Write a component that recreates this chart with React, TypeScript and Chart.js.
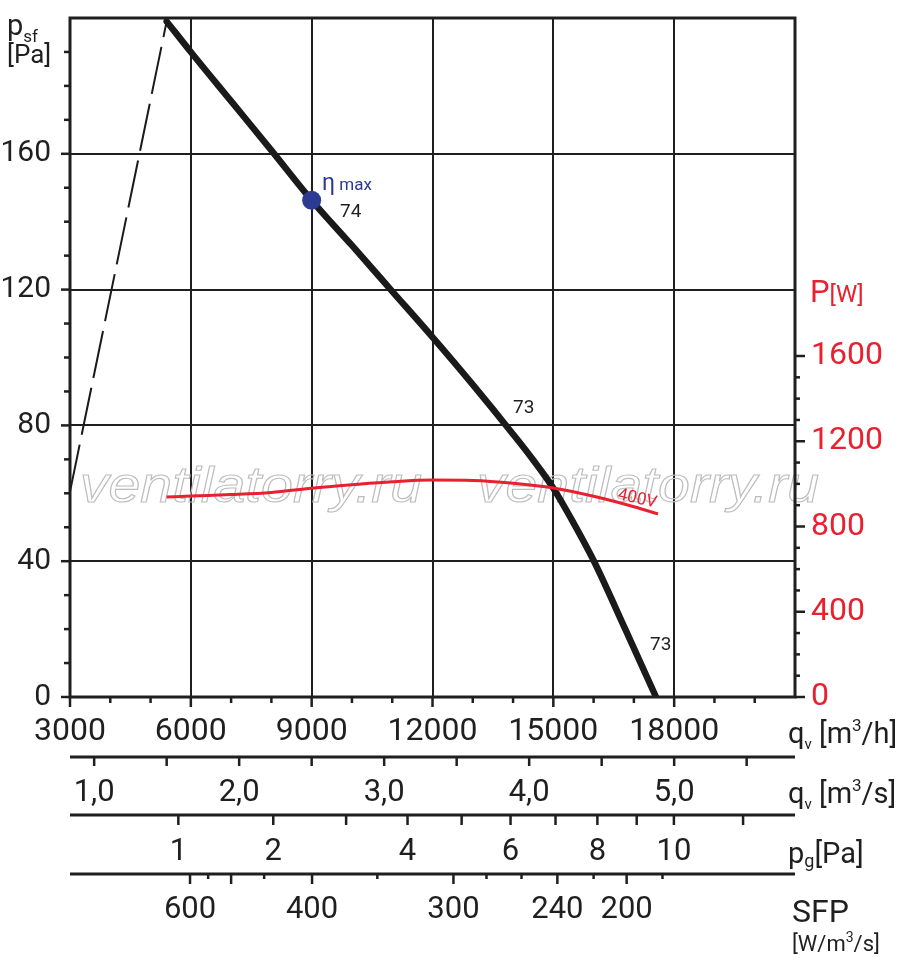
import { useEffect, useRef } from "react"
import { Chart, registerables, type ChartConfiguration, type Plugin, type Scale } from "chart.js"

Chart.register(...registerables)

const FONT = "Roboto"
const INK = "#1f1f1f"
const RED = "#e8202f"
const BLUE = "#2c3a94"

// fan curve, static pressure psf [Pa] against air flow [m3/h]
const flow = [5400, 6000, 7000, 8000, 9000, 10000, 11000, 12000, 13000, 14000, 14500, 15000, 15500, 16000, 16800, 17550]
const pressure = [199, 190, 175.5, 161, 146.3, 133, 119.5, 106, 92, 77.4, 69.8, 61.5, 51.3, 40.2, 19.6, 0]
// unstable region, dashed
const stallFlow = [3000, 5400]
const stallPressure = [60.5, 199]
// input power P [W] at 400V
const powerFlow = [5400, 6000, 7000, 8000, 9000, 10000, 11000, 12000, 13000, 14000, 15000, 16000, 17000, 17600]
const power = [938, 943, 950, 960, 980, 996, 1010, 1018, 1016, 1003, 981, 942, 893, 859]

const etaMaxFlow = 9000
const etaMaxPressure = 146.3

const flowLabels = [3000, 6000, 9000, 12000, 15000, 18000]
const pressureLabels = [0, 40, 80, 120, 160]
const powerLabels = [0, 400, 800, 1200, 1600]

// secondary rulers under the chart
const m3sTicks = [1, 1.5, 2, 2.5, 3, 3.5, 4, 4.5, 5, 5.5]
const m3sLabels = [1, 2, 3, 4, 5]
const pgTicks = [1, 2, 3, 4, 5, 6, 7, 8, 9, 10, 12]
const pgLabels = [1, 2, 4, 6, 8, 10]
const pgFlowAt1Pa = 5690
const sfpTicks = [600, 550, 500, 450, 400, 350, 300, 280, 260, 240, 220, 200, 180]
const sfpFlow = [5980, 6430, 7000, 7820, 9010, 10630, 12520, 13340, 14210, 15100, 16000, 16820, 17710]
const sfpLabels = [600, 400, 300, 240, 200]
const sfpLong = [600, 500, 400, 300, 240, 200]

const WATERMARK = "ventilatorry.ru"

type Part = [string, number, number]

function rich(ctx: CanvasRenderingContext2D, x: number, y: number, parts: Part[], color: string) {
  let cx = x
  ctx.fillStyle = color
  ctx.textAlign = "left"
  ctx.textBaseline = "alphabetic"
  for (const [s, size, dy] of parts) {
    ctx.font = `${size}px ${FONT}`
    ctx.fillText(s, cx, y + dy)
    cx += ctx.measureText(s).width
  }
}

function seg(ctx: CanvasRenderingContext2D, x1: number, y1: number, x2: number, y2: number) {
  ctx.beginPath()
  ctx.moveTo(x1, y1)
  ctx.lineTo(x2, y2)
  ctx.stroke()
}

// fixed axis sizes so the plot area lands where the reference has it
function fixSize(size: { width?: number; height?: number }) {
  return (s: Scale) => {
    if (size.width !== undefined) s.width = size.width
    if (size.height !== undefined) s.height = size.height
    s.paddingTop = 0
    s.paddingBottom = 0
    s.paddingLeft = 0
    s.paddingRight = 0
  }
}

const decor: Plugin<"line"> = {
  id: "decor",
  beforeDatasetsDraw(chart) {
    const { ctx } = chart
    ctx.save()
    ctx.strokeStyle = "#bdbdbd"
    ctx.lineWidth = 1.1
    ctx.font = `italic 50px "Liberation Sans"`
    ctx.textBaseline = "alphabetic"
    const w = ctx.measureText(WATERMARK).width
    for (const x0 of [80, 477]) {
      ctx.save()
      ctx.translate(x0, 502)
      ctx.scale(342 / w, 1)
      ctx.strokeText(WATERMARK, 0, 0)
      ctx.restore()
    }
    ctx.restore()
  },
  afterDraw(chart) {
    const { ctx, chartArea: a } = chart
    const xs = chart.scales.x
    const ys = chart.scales.y
    const ps = chart.scales.y1
    ctx.save()
    ctx.strokeStyle = INK
    ctx.lineCap = "butt"

    // frame
    ctx.lineWidth = 3
    ctx.strokeRect(a.left, a.top, a.right - a.left, a.bottom - a.top)

    // tick marks
    ctx.lineWidth = 2.5
    for (let v = 3000; v <= 20000; v += 1000) {
      const px = xs.getPixelForValue(v)
      seg(ctx, px, a.bottom, px, a.bottom + (v % 3000 === 0 ? 10 : 6))
    }
    for (let v = 0; v < 200; v += 10) {
      const py = ys.getPixelForValue(v)
      seg(ctx, a.left, py, a.left - (v % 40 === 0 ? 9 : 6), py)
    }
    for (let v = 0; v <= 1600; v += 100) {
      const py = ps.getPixelForValue(v)
      seg(ctx, a.right, py, a.right + (v % 400 === 0 ? 10 : 5), py)
    }

    // rulers
    const rulers = [757, 815, 874]
    ctx.lineWidth = 3
    for (const ry of rulers) seg(ctx, a.left, ry, a.right, ry)
    ctx.lineWidth = 2.5
    for (const v of m3sTicks) {
      const px = xs.getPixelForValue(v * 3600)
      seg(ctx, px, rulers[0], px, rulers[0] + 9)
    }
    for (const p of pgTicks) {
      const px = xs.getPixelForValue(pgFlowAt1Pa * Math.sqrt(p))
      seg(ctx, px, rulers[1], px, rulers[1] + 10)
    }
    sfpTicks.forEach((s, i) => {
      const px = xs.getPixelForValue(sfpFlow[i])
      seg(ctx, px, rulers[2], px, rulers[2] + (sfpLong.includes(s) ? 10 : 5))
    })

    ctx.fillStyle = INK
    ctx.font = `31px ${FONT}`
    ctx.textAlign = "center"
    ctx.textBaseline = "middle"
    for (const v of m3sLabels) {
      ctx.fillText(v.toFixed(1).replace(".", ","), xs.getPixelForValue(v * 3600), 793)
    }
    for (const p of pgLabels) {
      ctx.fillText(String(p), xs.getPixelForValue(pgFlowAt1Pa * Math.sqrt(p)), 852)
    }
    for (const s of sfpLabels) {
      ctx.fillText(String(s), xs.getPixelForValue(sfpFlow[sfpTicks.indexOf(s)]), 910)
    }

    // axis titles
    rich(ctx, 788, 743, [["q", 29, 0], ["v", 15, 6], [" [m", 29, 0], ["3", 17, -12], ["/h]", 29, 0]], INK)
    rich(ctx, 788, 803, [["q", 29, 0], ["v", 15, 6], [" [m", 29, 0], ["3", 17, -12], ["/s]", 29, 0]], INK)
    rich(ctx, 788, 863, [["p", 29, 0], ["g", 18, 4], ["[Pa]", 29, 0]], INK)
    rich(ctx, 792, 922, [["SFP", 32, 0]], INK)
    rich(ctx, 792, 951, [["[W/m", 22, 0], ["3", 14, -9], ["/s]", 22, 0]], INK)
    rich(ctx, 7, 35, [["p", 29, 0], ["sf", 17, 7]], INK)
    rich(ctx, 7, 63, [["[Pa]", 26, 0]], INK)
    rich(ctx, 810, 302, [["P", 31, 0], ["[W]", 24, 0]], RED)

    // annotations
    rich(ctx, 322, 190, [["η", 23, 0], [" max", 17, 0]], BLUE)
    rich(ctx, 340, 217, [["74", 19, 0]], INK)
    rich(ctx, 513, 413, [["73", 19, 0]], INK)
    rich(ctx, 650, 650, [["73", 19, 0]], INK)
    ctx.save()
    ctx.translate(617, 499)
    ctx.rotate(0.22)
    rich(ctx, 0, 0, [["400V", 17, 0]], RED)
    ctx.restore()

    ctx.restore()
  },
}

function buildConfig(): ChartConfiguration<"line"> {
  const tickFont = { family: FONT, size: 32 }
  return {
    type: "line",
    data: {
      datasets: [
        {
          data: [{ x: etaMaxFlow, y: etaMaxPressure }],
          yAxisID: "y",
          showLine: false,
          pointRadius: 9.5,
          pointBackgroundColor: BLUE,
          pointBorderWidth: 0,
          order: 0,
        },
        {
          data: powerFlow.map((q, i) => ({ x: q, y: power[i] })),
          yAxisID: "y1",
          borderColor: RED,
          borderWidth: 3,
          pointRadius: 0,
          cubicInterpolationMode: "monotone",
          order: 1,
        },
        {
          data: flow.map((q, i) => ({ x: q, y: pressure[i] })),
          yAxisID: "y",
          borderColor: "#1a1a1a",
          borderWidth: 6.5,
          borderCapStyle: "round",
          pointRadius: 0,
          cubicInterpolationMode: "monotone",
          order: 2,
        },
        {
          data: stallFlow.map((q, i) => ({ x: q, y: stallPressure[i] })),
          yAxisID: "y",
          borderColor: "#1a1a1a",
          borderWidth: 2,
          borderDash: [48, 10],
          pointRadius: 0,
          order: 3,
        },
      ],
    },
    options: {
      responsive: true,
      maintainAspectRatio: false,
      animation: false,
      events: [],
      layout: { padding: { top: 18, left: 0, right: 0, bottom: 0 } },
      plugins: { legend: { display: false }, tooltip: { enabled: false } },
      scales: {
        x: {
          type: "linear",
          min: 3000,
          max: 21000,
          afterFit: fixSize({ height: 273 }),
          border: { display: false },
          grid: {
            drawTicks: false,
            lineWidth: 2,
            color: (c) => (c.tick && c.tick.value > 3000 && c.tick.value <= 18000 && c.tick.value % 3000 === 0 ? INK : "transparent"),
          },
          ticks: {
            stepSize: 1000,
            autoSkip: false,
            maxRotation: 0,
            padding: 16,
            color: INK,
            font: tickFont,
            callback: (v) => (flowLabels.includes(Number(v)) ? String(v) : ""),
          },
        },
        y: {
          type: "linear",
          position: "left",
          min: 0,
          max: 200,
          afterFit: fixSize({ width: 70 }),
          border: { display: false },
          grid: {
            drawTicks: false,
            lineWidth: 2,
            color: (c) => (c.tick && c.tick.value > 0 && c.tick.value < 200 && c.tick.value % 40 === 0 ? INK : "transparent"),
          },
          ticks: {
            stepSize: 10,
            autoSkip: false,
            padding: 19,
            color: INK,
            font: { family: FONT, size: 30 },
            callback: (v) => (pressureLabels.includes(Number(v)) ? String(v) : ""),
          },
        },
        y1: {
          type: "linear",
          position: "right",
          min: 0,
          max: 3186,
          afterFit: fixSize({ width: 105 }),
          afterBuildTicks: (s) => {
            s.ticks = s.ticks.filter((t) => t.value <= 1600)
          },
          border: { display: false },
          grid: { display: false, drawTicks: false },
          ticks: {
            stepSize: 100,
            autoSkip: false,
            padding: 16,
            color: RED,
            font: tickFont,
            callback: (v) => (powerLabels.includes(Number(v)) ? String(v) : ""),
          },
        },
      },
    },
    plugins: [decor],
  }
}

export default function App() {
  const canvasRef = useRef<HTMLCanvasElement>(null)

  useEffect(() => {
    document.body.style.margin = "0"
    if (!canvasRef.current) return
    const chart = new Chart(canvasRef.current, buildConfig())
    return () => chart.destroy()
  }, [])

  return (
    <div style={{ position: "relative", width: 900, height: 970, background: "#fff" }}>
      <canvas ref={canvasRef} />
    </div>
  )
}
